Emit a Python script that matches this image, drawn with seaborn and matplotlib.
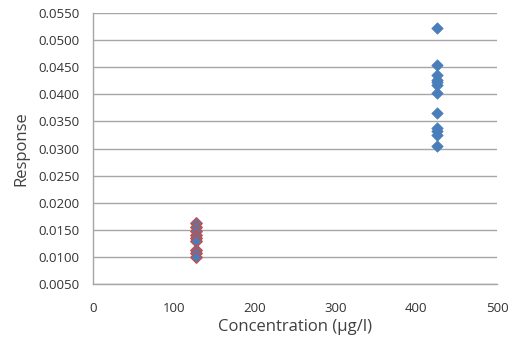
import matplotlib
matplotlib.use("Agg")
import matplotlib.pyplot as plt
import seaborn as sns
import pandas as pd

# Valores
conc_baixa = [127] * 9
resp_baixa = [0.0162, 0.0155, 0.0148, 0.0140, 0.0135, 0.0130, 0.0112, 0.0108, 0.0100]
conc_alta = [425] * 12
resp_alta = [0.0522, 0.0455, 0.0435, 0.0427, 0.0422, 0.0418, 0.0403,
             0.0365, 0.0338, 0.0333, 0.0325, 0.0305]

df_baixa = pd.DataFrame({"conc": conc_baixa, "resp": resp_baixa})
df_alta = pd.DataFrame({"conc": conc_alta, "resp": resp_alta})

sns.set_style("white")
plt.rcParams["font.family"] = ["Open Sans", "DejaVu Sans"]

fig, ax = plt.subplots(figsize=(5.12, 3.45), dpi=100)
fig.subplots_adjust(left=0.182, right=0.971, top=0.962, bottom=0.177)

azul = "#4A7EBB"
vermelho = "#C0504D"

sns.scatterplot(data=df_alta, x="conc", y="resp", marker="D", s=34,
                color=azul, edgecolor=azul, linewidth=0.5, ax=ax, zorder=3)
sns.scatterplot(data=df_baixa, x="conc", y="resp", marker="D", s=34,
                color=azul, edgecolor=vermelho, linewidth=1.0, ax=ax, zorder=3)

ax.set_xlim(0, 500)
ax.set_ylim(0.005, 0.055)
ax.set_xticks(range(0, 501, 100))
ax.set_yticks([0.005 + 0.005 * i for i in range(11)])
ax.yaxis.set_major_formatter(matplotlib.ticker.FormatStrFormatter("%.4f"))

ax.grid(axis="y", color="#A6A6A6", linewidth=1.0)
ax.grid(axis="x", visible=False)
for lado in ["top", "right"]:
    ax.spines[lado].set_visible(False)
for lado in ["left", "bottom"]:
    ax.spines[lado].set_color("#A6A6A6")
    ax.spines[lado].set_linewidth(1.0)

ax.tick_params(axis="both", direction="out", length=5, width=1,
               color="#A6A6A6", labelsize=9.5, labelcolor="#333333")
ax.tick_params(axis="x", pad=8)
ax.tick_params(axis="y", pad=5)

ax.set_xlabel("Concentration (µg/l)", fontsize=12, color="#404040", labelpad=3)
ax.set_ylabel("Response", fontsize=12, color="#404040", labelpad=6)

plt.savefig("out.png", dpi=100)
